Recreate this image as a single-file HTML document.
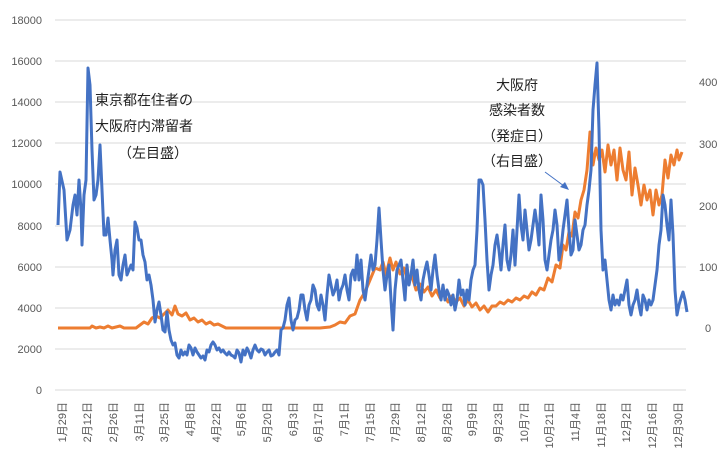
<!DOCTYPE html>
<html><head><meta charset="utf-8"><style>
body{margin:0;background:#fff;}
svg text{font-family:"Liberation Sans","Noto Sans CJK JP",sans-serif;}
</style></head><body>
<svg width="727" height="456" xmlns="http://www.w3.org/2000/svg">
<g stroke="#d9d9d9" stroke-width="1">
<line x1="55" x2="686" y1="20" y2="20"/><line x1="55" x2="686" y1="61" y2="61"/><line x1="55" x2="686" y1="102" y2="102"/><line x1="55" x2="686" y1="143" y2="143"/><line x1="55" x2="686" y1="184" y2="184"/><line x1="55" x2="686" y1="226" y2="226"/><line x1="55" x2="686" y1="267" y2="267"/><line x1="55" x2="686" y1="308" y2="308"/><line x1="55" x2="686" y1="349" y2="349"/><line x1="55" x2="686" y1="390" y2="390"/>
</g>
<g font-size="11" fill="#595959" text-anchor="end">
<text x="42" y="24">18000</text><text x="42" y="65">16000</text><text x="42" y="106">14000</text><text x="42" y="147">12000</text><text x="42" y="188">10000</text><text x="42" y="230">8000</text><text x="42" y="271">6000</text><text x="42" y="312">4000</text><text x="42" y="353">2000</text><text x="42" y="394">0</text>
</g>
<g font-size="11" fill="#595959" text-anchor="start">
<text x="699" y="86">400</text><text x="699" y="148">300</text><text x="699" y="210">200</text><text x="699" y="271">100</text><text x="705" y="332">0</text>
</g>
<g font-size="11" fill="#595959" text-anchor="end">
<text transform="translate(66,402) rotate(-90)">1月29日</text>
<text transform="translate(91,402) rotate(-90)">2月12日</text>
<text transform="translate(117,402) rotate(-90)">2月26日</text>
<text transform="translate(143,402) rotate(-90)">3月11日</text>
<text transform="translate(168,402) rotate(-90)">3月25日</text>
<text transform="translate(194,402) rotate(-90)">4月8日</text>
<text transform="translate(220,402) rotate(-90)">4月22日</text>
<text transform="translate(245,402) rotate(-90)">5月6日</text>
<text transform="translate(271,402) rotate(-90)">5月20日</text>
<text transform="translate(297,402) rotate(-90)">6月3日</text>
<text transform="translate(322,402) rotate(-90)">6月17日</text>
<text transform="translate(348,402) rotate(-90)">7月1日</text>
<text transform="translate(374,402) rotate(-90)">7月15日</text>
<text transform="translate(399,402) rotate(-90)">7月29日</text>
<text transform="translate(425,402) rotate(-90)">8月12日</text>
<text transform="translate(451,402) rotate(-90)">8月26日</text>
<text transform="translate(476,402) rotate(-90)">9月9日</text>
<text transform="translate(502,402) rotate(-90)">9月23日</text>
<text transform="translate(528,402) rotate(-90)">10月7日</text>
<text transform="translate(553,402) rotate(-90)">10月21日</text>
<text transform="translate(579,402) rotate(-90)">11月4日</text>
<text transform="translate(605,402) rotate(-90)">11月18日</text>
<text transform="translate(630,402) rotate(-90)">12月2日</text>
<text transform="translate(656,402) rotate(-90)">12月16日</text>
<text transform="translate(682,402) rotate(-90)">12月30日</text>
</g>
<polyline fill="none" stroke="#ed7d31" stroke-width="3" stroke-linejoin="round" points="58,328 90,328 92,326 96,328 100,327 104,328 108,326 112,328 116,327 120,326 124,328 130,328 136,328 140,325 144,322 148,324 152,318 156,316 160,318 164,314 168,310 172,315 175,306 178,314 182,316 186,313 190,320 194,318 198,322 202,320 206,324 210,322 214,325 218,324 222,326 226,328 240,328 260,328 280,328 300,328 320,328 330,327 335,325 340,322 345,323 350,316 355,314 360,300 365,292 370,280 375,268 380,270 383,262 386,275 390,258 393,270 396,262 400,274 404,268 408,282 412,276 416,290 420,284 424,292 428,287 432,296 436,290 440,298 444,294 448,302 452,296 456,302 460,298 464,306 468,300 472,307 476,303 480,310 484,306 488,312 492,306 496,306 500,302 504,304 508,300 512,302 516,298 520,300 524,296 528,298 532,292 536,295 540,288 544,290 548,278 552,282 556,265 560,268 563,245 566,250 569,232 572,236 575,212 578,218 581,200 584,190 587,170 590,132 593,165 596,148 599,160 602,150 605,172 608,145 611,165 614,150 617,180 620,148 623,170 626,180 629,152 632,195 635,168 638,185 641,205 644,185 647,200 650,190 653,215 656,190 659,205 662,195 665,160 668,178 671,155 674,165 677,150 679,160 682,152"/>
<polyline fill="none" stroke="#4472c4" stroke-width="3" stroke-linejoin="round" points="58,225 60,172 64,190 67,240 70,230 73,205 75,195 77,215 79,180 81,210 82,245 84,195 86,180 88,68 90,85 92,150 94,200 96,195 98,180 100,145 102,190 104,235 106,235 108,218 110,240 112,260 113,275 115,250 117,240 119,275 121,280 123,265 125,255 127,275 129,270 131,265 133,270 135,222 137,228 139,240 141,240 143,255 145,262 147,280 149,275 151,285 153,300 155,322 157,310 159,302 161,315 163,330 165,332 167,312 169,330 171,340 173,345 175,343 177,355 179,358 181,350 183,355 185,352 187,355 189,345 191,348 193,355 195,348 197,352 199,355 201,358 203,356 205,360 207,350 209,352 211,345 213,342 215,345 217,350 219,348 221,352 223,350 225,353 227,355 229,352 231,355 233,356 235,358 237,350 239,353 241,362 243,350 245,355 247,348 249,352 251,358 253,350 255,345 257,350 259,352 261,349 263,350 265,355 267,352 269,350 271,356 273,355 275,352 277,350 279,355 281,330 283,328 285,320 287,305 289,298 291,320 293,330 295,320 297,318 299,310 301,295 303,295 305,310 307,320 309,305 311,300 313,285 315,290 317,305 319,310 321,295 323,305 325,320 327,295 329,275 331,285 333,295 335,290 337,280 339,300 341,290 343,285 345,275 347,290 349,300 351,275 353,270 355,280 357,255 359,280 361,260 363,290 365,300 367,285 369,270 371,255 373,270 375,265 377,240 379,208 381,240 383,270 385,290 387,275 389,265 391,300 393,330 395,290 397,270 399,265 401,260 403,280 405,300 407,265 409,285 411,275 413,260 415,285 417,270 419,290 421,300 423,280 425,270 427,262 429,275 431,290 433,270 435,255 437,275 439,290 441,300 443,285 445,300 447,290 449,295 451,305 453,295 455,310 457,300 459,280 461,295 463,290 465,305 467,290 469,300 471,280 473,270 475,265 477,230 479,180 481,180 483,185 485,220 487,260 489,290 491,275 493,265 495,245 497,235 499,250 501,270 503,245 505,225 507,260 509,270 511,255 513,230 515,265 517,230 519,195 521,225 523,240 525,210 527,230 529,250 531,240 533,225 535,210 537,225 539,245 541,195 543,220 545,260 547,270 549,255 551,240 553,230 555,210 557,225 559,260 561,250 563,230 565,215 567,200 569,230 571,255 573,250 575,220 577,235 579,250 581,245 583,230 585,225 587,205 589,190 591,170 593,110 595,85 597,63 599,130 601,230 603,270 605,260 607,280 609,300 611,310 613,295 615,305 617,300 619,305 621,295 623,300 625,290 627,280 629,305 631,315 633,305 635,300 637,290 639,305 641,315 643,295 645,300 647,310 649,300 651,305 653,300 655,285 657,270 659,245 661,230 663,195 665,205 667,225 669,240 671,200 673,235 675,290 677,315 679,305 681,298 683,292 685,300 687,312"/>
<g font-size="14" fill="#222">
<text x="95" y="105">東京都在住者の</text>
<text x="95" y="131">大阪府内滞留者</text>
<text x="118" y="158">（左目盛）</text>
<text x="517" y="90" text-anchor="middle">大阪府</text>
<text x="517" y="115" text-anchor="middle">感染者数</text>
<text x="517" y="141" text-anchor="middle">（発症日）</text>
<text x="517" y="166" text-anchor="middle">（右目盛）</text>
</g>
<line x1="545" y1="172" x2="564" y2="186" stroke="#4472c4" stroke-width="1"/>
<polygon points="569,190 560,187 565,182" fill="#4472c4"/>
</svg>
</body></html>
